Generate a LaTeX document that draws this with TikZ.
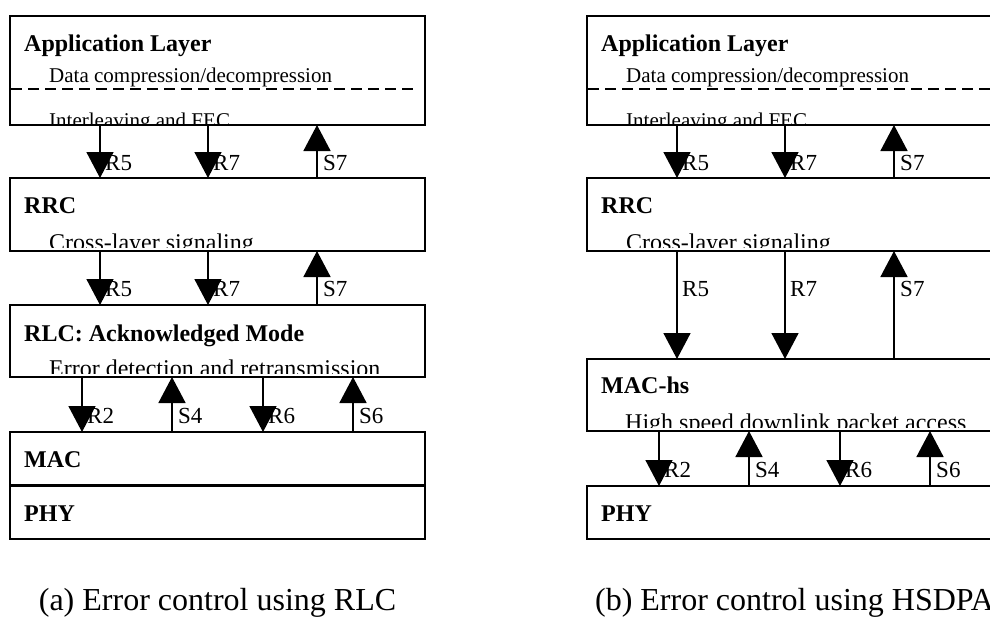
\documentclass[tikz,border=0pt]{standalone}
\usepackage{fontspec}
\setmainfont{Liberation Serif}
\usetikzlibrary{arrows.meta,calc}
\begin{document}
\begin{tikzpicture}[x=1pt,y=-1pt,
  box/.style={draw, line width=1.6pt, rectangle, outer sep=0pt, inner sep=0pt, minimum width=415pt, anchor=north west},
  ttl/.style={anchor=base west, inner sep=0pt, font=\fontsize{24}{28}\selectfont\bfseries},
  sub/.style={anchor=base west, inner sep=0pt, font=\fontsize{24}{28}\selectfont},
  subsmall/.style={anchor=base west, inner sep=0pt, font=\fontsize{21}{25}\selectfont},
  lbl/.style={anchor=base west, inner sep=0pt, font=\fontsize{23}{27}\selectfont},
  captext/.style={anchor=base, inner sep=0pt, font=\fontsize{32}{38}\selectfont},
  flow/.style={line width=1.6pt, -{Triangle[length=26pt,width=27pt]}},
  dashline/.style={line width=1.5pt, dash pattern=on 10.5pt off 6.5pt}
]
\useasboundingbox (0,0) rectangle (990,616);
\clip (0,0) rectangle (990,616);

% ---------- column positions ----------
\coordinate (a1) at (100,0);
\coordinate (a2) at (208,0);
\coordinate (a3) at (317,0);
\coordinate (b1) at (82,0);
\coordinate (b2) at (172,0);
\coordinate (b3) at (263,0);
\coordinate (b4) at (353,0);
\coordinate (c1) at (677,0);
\coordinate (c2) at (785,0);
\coordinate (c3) at (894,0);
\coordinate (d1) at (659,0);
\coordinate (d2) at (749,0);
\coordinate (d3) at (840,0);
\coordinate (d4) at (930,0);

% ---------- panel (a) boxes ----------
\node[box, minimum height=109pt] (appA) at (10,16) {};
\node[box, minimum height=73pt] (rrcA) at (10,178) {};
\node[box, minimum height=72pt] (rlcA) at (10,305) {};
\node[box, minimum height=53pt] (macA) at (10,432) {};
\node[box, minimum height=53pt] (phyA) at (10,486) {};

% ---------- panel (b) boxes ----------
\node[box, minimum height=109pt] (appB) at (587,16) {};
\node[box, minimum height=73pt] (rrcB) at (587,178) {};
\node[box, minimum height=72pt] (machsB) at (587,359) {};
\node[box, minimum height=53pt] (phyB) at (587,486) {};

% ---------- titles ----------
\node[ttl] (tAppA) at ($(appA.north west)+(14,35)$) {Application Layer};
\node[ttl] (tRrcA) at ($(rrcA.north west)+(14,35)$) {RRC};
\node[ttl] (tRlcA) at ($(rlcA.north west)+(14,36)$) {RLC: Acknowledged Mode};
\node[ttl] (tMacA) at ($(macA.north west)+(14,35)$) {MAC};
\node[ttl] (tPhyA) at ($(phyA.north west)+(14,35)$) {PHY};
\node[ttl] (tAppB) at ($(appB.north west)+(14,35)$) {Application Layer};
\node[ttl] (tRrcB) at ($(rrcB.north west)+(14,35)$) {RRC};
\node[ttl] (tMacB) at ($(machsB.north west)+(14,34)$) {MAC-hs};
\node[ttl] (tPhyB) at ($(phyB.north west)+(14,35)$) {PHY};

% ---------- sub texts ----------
\node[subsmall] (dcA) at ($(appA.north west)+(39,66)$) {Data compression/decompression};
\node[subsmall] (dcB) at ($(appB.north west)+(39,66)$) {Data compression/decompression};
\draw[dashline] ($(appA.north west)+(1,73)$) coordinate (dsA) -- ($(appA.north west)+(407,73)$) coordinate (deA);
\draw[dashline] ($(appB.north west)+(1,73)$) coordinate (dsB) -- ($(appB.north west)+(407,73)$) coordinate (deB);

\begin{scope}
  \clip ($(appA.south west)+(0,-2)$) rectangle (appA.north east);
  \node[subsmall] (ilA) at ($(appA.south west)+(39,2)$) {Interleaving and FEC};
\end{scope}
\begin{scope}
  \clip ($(appB.south west)+(0,-2)$) rectangle (appB.north east);
  \node[subsmall] (ilB) at ($(appB.south west)+(39,2)$) {Interleaving and FEC};
\end{scope}
\begin{scope}
  \clip ($(rrcA.south west)+(0,-4)$) rectangle (rrcA.north east);
  \node[sub] (clA) at ($(rrcA.south west)+(39,-1)$) {Cross-layer signaling};
\end{scope}
\begin{scope}
  \clip ($(rrcB.south west)+(0,-4)$) rectangle (rrcB.north east);
  \node[sub] (clB) at ($(rrcB.south west)+(39,-1)$) {Cross-layer signaling};
\end{scope}
\begin{scope}
  \clip ($(rlcA.south west)+(0,-4)$) rectangle (rlcA.north east);
  \node[sub] (edA) at ($(rlcA.south west)+(39,-1)$) {Error detection and retransmission};
\end{scope}
\begin{scope}
  \clip ($(machsB.south west)+(0,-4)$) rectangle (machsB.north east);
  \node[sub] (hsB) at ($(machsB.south west)+(38,-1)$) {High speed downlink packet access};
\end{scope}

% ---------- panel (a) arrows ----------
\draw[flow] (appA.south -| a1) -- (rrcA.north -| a1);
\draw[flow] (appA.south -| a2) -- (rrcA.north -| a2);
\draw[flow] (rrcA.north -| a3) -- (appA.south -| a3);
\node[lbl] (lA1) at ($(appA.south -| a1)+(5,45)$) {R5};
\node[lbl] (lA2) at ($(appA.south -| a2)+(5,45)$) {R7};
\node[lbl] (lA3) at ($(appA.south -| a3)+(6,45)$) {S7};

\draw[flow] (rrcA.south -| a1) -- (rlcA.north -| a1);
\draw[flow] (rrcA.south -| a2) -- (rlcA.north -| a2);
\draw[flow] (rlcA.north -| a3) -- (rrcA.south -| a3);
\node[lbl] (lA4) at ($(rrcA.south -| a1)+(5,45)$) {R5};
\node[lbl] (lA5) at ($(rrcA.south -| a2)+(5,45)$) {R7};
\node[lbl] (lA6) at ($(rrcA.south -| a3)+(6,45)$) {S7};

\draw[flow] (rlcA.south -| b1) -- (macA.north -| b1);
\draw[flow] (macA.north -| b2) -- (rlcA.south -| b2);
\draw[flow] (rlcA.south -| b3) -- (macA.north -| b3);
\draw[flow] (macA.north -| b4) -- (rlcA.south -| b4);
\node[lbl] (lA7) at ($(rlcA.south -| b1)+(5,46)$) {R2};
\node[lbl] (lA8) at ($(rlcA.south -| b2)+(6,46)$) {S4};
\node[lbl] (lA9) at ($(rlcA.south -| b3)+(5,46)$) {R6};
\node[lbl] (lA10) at ($(rlcA.south -| b4)+(6,46)$) {S6};

% ---------- panel (b) arrows ----------
\draw[flow] (appB.south -| c1) -- (rrcB.north -| c1);
\draw[flow] (appB.south -| c2) -- (rrcB.north -| c2);
\draw[flow] (rrcB.north -| c3) -- (appB.south -| c3);
\node[lbl] (lB1) at ($(appB.south -| c1)+(5,45)$) {R5};
\node[lbl] (lB2) at ($(appB.south -| c2)+(5,45)$) {R7};
\node[lbl] (lB3) at ($(appB.south -| c3)+(6,45)$) {S7};

\draw[flow] (rrcB.south -| c1) -- (machsB.north -| c1);
\draw[flow] (rrcB.south -| c2) -- (machsB.north -| c2);
\draw[flow] (machsB.north -| c3) -- (rrcB.south -| c3);
\node[lbl] (lB4) at ($(rrcB.south -| c1)+(5,45)$) {R5};
\node[lbl] (lB5) at ($(rrcB.south -| c2)+(5,45)$) {R7};
\node[lbl] (lB6) at ($(rrcB.south -| c3)+(6,45)$) {S7};

\draw[flow] (machsB.south -| d1) -- (phyB.north -| d1);
\draw[flow] (phyB.north -| d2) -- (machsB.south -| d2);
\draw[flow] (machsB.south -| d3) -- (phyB.north -| d3);
\draw[flow] (phyB.north -| d4) -- (machsB.south -| d4);
\node[lbl] (lB7) at ($(machsB.south -| d1)+(5,46)$) {R2};
\node[lbl] (lB8) at ($(machsB.south -| d2)+(6,46)$) {S4};
\node[lbl] (lB9) at ($(machsB.south -| d3)+(5,46)$) {R6};
\node[lbl] (lB10) at ($(machsB.south -| d4)+(6,46)$) {S6};

% ---------- captions ----------
\node[captext] (capA) at (217.5,610) {(a) Error control using RLC};
\node[captext] (capB) at (794.5,610) {(b) Error control using HSDPA};
\end{tikzpicture}
\end{document}
